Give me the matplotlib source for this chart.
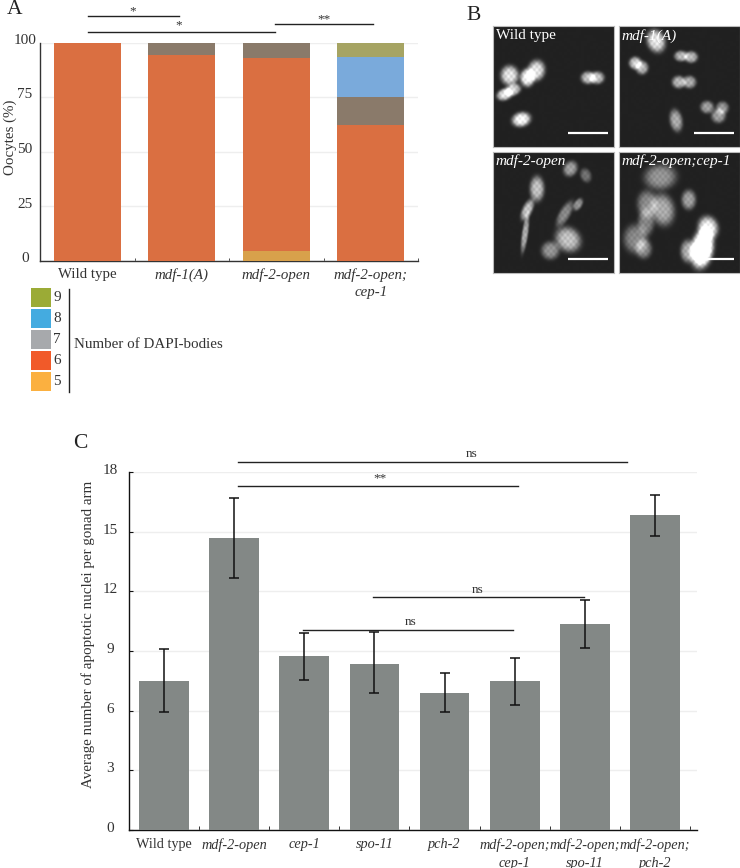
import numpy as np
import matplotlib
matplotlib.use('Agg')
import matplotlib.pyplot as plt
from matplotlib.patches import Rectangle
from matplotlib.transforms import ScaledTranslation

plt.rcParams['font.family'] = ['Liberation Serif', 'DejaVu Serif']
W, H = 740, 868
TXT = '#333333'

# Panel A data
a_labels = ['Wild type', 'mdf-1(A)', 'mdf-2-open', 'mdf-2-open;\ncep-1']
a_5 = [0, 0, 4.7, 0]
a_6 = [100, 94.5, 88.3, 62.5]
a_7 = [0, 5.5, 7, 12.5]
a_8 = [0, 0, 0, 18.75]
a_9 = [0, 0, 0, 6.25]
a_colors = ['#d8a14b', '#da6f41', '#8a7a6a', '#7aaadb', '#a6a463']
legend_names = ['9', '8', '7', '6', '5']
legend_colors = ['#9bab36', '#44abe0', '#a7a9ac', '#f15a29', '#fbb040']

# Panel C data
c_labels = ['Wild type', 'mdf-2-open', 'cep-1', 'spo-11', 'pch-2',
            'mdf-2-open;\ncep-1', 'mdf-2-open;\nspo-11', 'mdf-2-open;\npch-2']
c_vals = [7.48, 14.66, 8.74, 8.37, 6.91, 7.48, 10.34, 15.84]
c_hi = [9.08, 16.68, 9.88, 9.97, 7.90, 8.64, 11.58, 16.83]
c_lo = [5.92, 12.65, 7.53, 6.88, 5.92, 6.29, 9.14, 14.78]
c_label_shift = [0, 0, 0, 0, 0, -5, -1, 6]

# Panel B nuclei: x, y, rx, ry, angle, brightness (zoomed px inside each panel)
b_wt = [(50, 148, 20, 22, 0, .85), (103, 155, 16, 20, 0, .95), (130, 133, 19, 23, 10, .85),
        (35, 205, 18, 13, -20, .85), (60, 191, 18, 13, -20, .75), (85, 280, 21, 16, -15, .95),
        (285, 155, 16, 14, 0, .7), (312, 155, 16, 14, 0, .7)]
b_m1 = [(111, 45, 20, 26, -20, .85), (49, 111, 14, 14, 0, .75), (69, 125, 14, 15, 0, .65),
        (186, 90, 15, 12, 0, .65), (216, 93, 15, 13, 0, .65), (179, 168, 15, 14, 0, .65),
        (211, 168, 15, 14, 0, .6), (264, 243, 15, 14, 0, .55), (310, 245, 14, 14, 0, .5),
        (298, 269, 16, 16, 0, .55), (171, 283, 14, 25, -10, .6)]
b_m2 = [(232, 50, 15, 18, 30, .55), (278, 70, 12, 16, -20, .35), (132, 110, 16, 28, 0, .7),
        (103, 173, 11, 25, 25, .7), (96, 245, 7, 42, 8, .6), (172, 295, 20, 20, 40, .5),
        (225, 262, 30, 26, 40, .7), (215, 185, 12, 32, 30, .45), (255, 157, 9, 15, 30, .5)]
b_dc = [(124, 75, 36, 28, -5, .5), (84, 155, 22, 30, 0, .45), (81, 210, 18, 30, 0, .42),
        (49, 260, 26, 32, 0, .45), (74, 290, 18, 22, 0, .45), (131, 173, 26, 36, -10, .6),
        (209, 143, 16, 22, 0, .55), (267, 227, 22, 26, -15, .9), (249, 290, 24, 42, 10, 1.6),
        (206, 297, 16, 25, 0, .6)]
b_panels = [(493, 26, b_wt, 'Wild type', 'normal'), (619, 26, b_m1, 'mdf-1(A)', 'italic'),
            (493, 152, b_m2, 'mdf-2-open', 'italic'), (619, 152, b_dc, 'mdf-2-open;cep-1', 'italic')]


def px_axes(x0, y0, x1, y1):
    return fig.add_axes([x0 / W, 1 - y1 / H, (x1 - x0) / W, (y1 - y0) / H])


def shift(t, dx, dy):
    # move a tick label by some pixels (dy up)
    t.set_transform(t.get_transform() + ScaledTranslation(dx / 100, dy / 100, fig.dpi_scale_trans))


fig = plt.figure(figsize=(W / 100, H / 100), dpi=100)

# A
axa = px_axes(40, 43, 418, 261)
xa = np.arange(4)
bottom = np.zeros(4)
for vals, col in zip([a_5, a_6, a_7, a_8, a_9], a_colors):
    axa.bar(xa, vals, 0.71, bottom=bottom, color=col, zorder=3)
    bottom = bottom + np.array(vals)
axa.set_xlim(-0.5, 3.5)
axa.set_ylim(0, 100)
axa.set_yticks([0, 25, 50, 75, 100])
axa.set_xticks(xa)
axa.set_xticklabels(a_labels, fontsize=10.7, color=TXT, linespacing=1.45)
for i, t in enumerate(axa.get_xticklabels()):
    if i > 0:
        t.set_style('italic')
axa.set_xticks(np.arange(-0.5, 4), minor=True)
axa.tick_params(axis='x', which='major', length=0, pad=5)
axa.tick_params(axis='x', which='minor', length=2, direction='in', color=TXT)
axa.tick_params(axis='y', length=0, labelsize=11, labelcolor=TXT, pad=10.8)
for t in axa.get_yticklabels():
    t.set_ha('center')
    shift(t, 0, 4)
axa.grid(axis='y', color='#eeeeee', linewidth=1, zorder=0)
axa.set_ylabel('Oocytes (%)', fontsize=10.8, color=TXT)
axa.yaxis.set_label_coords(-0.06, 0.569)
for s in ['top', 'right']:
    axa.spines[s].set_visible(False)
for s in ['left', 'bottom']:
    axa.spines[s].set_color(TXT)
    axa.spines[s].set_linewidth(1)

# C
axc = px_axes(129, 472, 697, 830)
xc = np.arange(8)
axc.bar(xc, c_vals, 0.71, color='#838886', zorder=3)
vals = np.array(c_vals)
axc.errorbar(xc, vals, yerr=[vals - np.array(c_lo), np.array(c_hi) - vals], fmt='none',
             ecolor='#111111', elinewidth=1.1, capsize=3.6, capthick=1.1, zorder=4)
axc.set_xlim(-0.5, 7.6)
axc.set_ylim(0, 18)
axc.set_yticks(np.arange(0, 19, 3))
axc.set_xticks(xc)
axc.set_xticklabels(c_labels, fontsize=10.3, color=TXT, linespacing=1.45)
for i, t in enumerate(axc.get_xticklabels()):
    if i > 0:
        t.set_style('italic')
    shift(t, c_label_shift[i], 0)
axc.set_xticks(np.arange(-0.5, 8), minor=True)
axc.tick_params(axis='x', which='major', length=0, pad=6)
axc.tick_params(axis='x', which='minor', length=3, direction='in', color='#111111')
axc.tick_params(axis='y', length=3, direction='in', labelsize=11, labelcolor=TXT, pad=13.7, color='#111111')
for t in axc.get_yticklabels():
    t.set_ha('center')
    shift(t, 0, 3)
axc.grid(axis='y', color='#eeeeee', linewidth=1, zorder=0)
axc.set_ylabel('Average number of apoptotic nuclei per gonad arm', fontsize=10.8, color=TXT)
axc.yaxis.set_label_coords(-0.06, 0.547)
for s in ['top', 'right']:
    axc.spines[s].set_visible(False)
for s in ['left', 'bottom']:
    axc.spines[s].set_color('#111111')
    axc.spines[s].set_linewidth(1)

# B micrographs
yy, xx = np.mgrid[0:363, 0:363]
grain = 0.9 + 0.1 * np.sin(xx / 2.7) * np.sin(yy / 3.1)
for x0, y0, blobs, name, style in b_panels:
    axb = px_axes(x0, y0, x0 + 121, y0 + 121)
    img = np.zeros((363, 363))
    for bx, by, rx, ry, ang, br in blobs:
        t = np.deg2rad(ang)
        u = (xx - bx) * np.cos(t) + (yy - by) * np.sin(t)
        v = -(xx - bx) * np.sin(t) + (yy - by) * np.cos(t)
        img += br * np.exp(-((u / (1.3 * rx)) ** 2 + (v / (1.3 * ry)) ** 2) ** 2)
    axb.imshow(0.13 + img * grain, cmap='gray', vmin=0, vmax=1, interpolation='bilinear', aspect='auto')
    axb.set_xticks([])
    axb.set_yticks([])
    for s in axb.spines.values():
        s.set_edgecolor('#bbbbbb')
        s.set_linewidth(0.8)
    axb.plot([224, 346], [320, 320], color='white', linewidth=1.6, solid_capstyle='butt')
    axb.set_xlim(0, 363)
    axb.set_ylim(363, 0)
    axb.text(8, 8, name, color='white', style=style, fontsize=11, va='top', ha='left')

# overlay for labels, brackets and the legend
ov = fig.add_axes([0, 0, 1, 1], zorder=10)
ov.set_xlim(0, W)
ov.set_ylim(H, 0)
ov.axis('off')
ov.patch.set_alpha(0)

for txt, x, y in [('A', 15, 9), ('B', 474, 15), ('C', 80, 444)]:
    ov.text(x, y, txt, fontsize=15.5, color='#222222', ha='center', va='center')

brackets = [(88, 179, 16, '*', 133, 11), (88, 275, 32, '*', 179, 25), (275, 373, 23.5, '**', 324, 19),
            (238, 627, 462, 'ns', 472, 454), (238, 518, 486, '**', 380, 478),
            (373, 584, 597, 'ns', 478, 590), (303, 513, 630, 'ns', 411, 622)]
for x0, x1, y, s, tx, ty in brackets:
    ov.plot([x0, x1], [y, y], color='#222222', linewidth=1)
    ov.text(tx, ty, s, fontsize=9.5, color=TXT, ha='center', va='center')

for i, (name, col) in enumerate(zip(legend_names, legend_colors)):
    top = 288 + i * 21
    ov.add_patch(Rectangle((31, top), 20, 19, facecolor=col, edgecolor='none'))
    ov.text(57, top + 9.5, name, fontsize=11, color=TXT, ha='center', va='center')
ov.plot([69, 69], [289, 392], color='#222222', linewidth=1)
ov.text(74, 345, 'Number of DAPI-bodies', fontsize=10.8, color=TXT, ha='left', va='center')

fig.savefig('out.png', dpi=100)
plt.close(fig)
